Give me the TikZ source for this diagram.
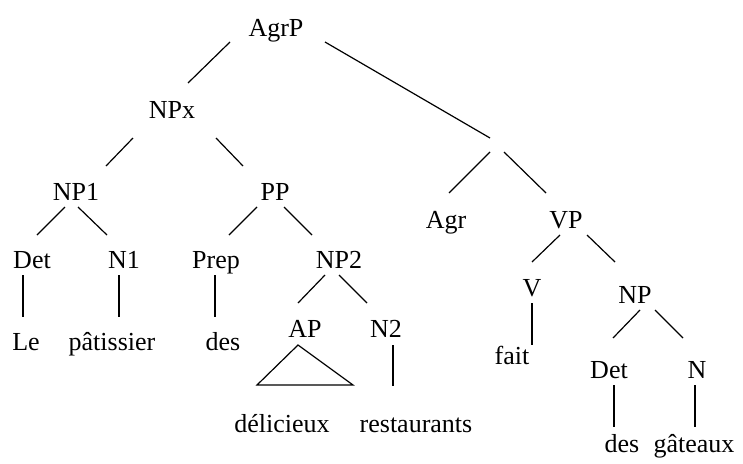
\documentclass[tikz,border=0pt]{standalone}
\usepackage{fontspec}
\setmainfont{Liberation Serif}
\begin{document}
\begin{tikzpicture}[x=1pt,y=-1pt,line width=1.2pt,
  lbl/.style={anchor=base,inner sep=0pt,font=\fontsize{26}{30}\selectfont}]
\useasboundingbox (0,0) rectangle (743,463);
% categories
\node[lbl] (agrp) at (276,36) {AgrP};
\node[lbl] (npx) at (172,118) {NPx};
\node[lbl] (np1) at (76,200) {NP1};
\node[lbl] (pp) at (275,200) {PP};
\coordinate (j) at (497,145);
\node[lbl] (agr) at (446,228) {Agr};
\node[lbl] (vp) at (566,228) {VP};
\node[lbl] (det1) at (32,268) {Det};
\node[lbl] (n1) at (124,268) {N1};
\node[lbl] (prep) at (216,268) {Prep};
\node[lbl] (np2) at (339,268) {NP2};
\node[lbl] (ap) at (305,337) {AP};
\node[lbl] (n2) at (386,337) {N2};
\node[lbl] (v) at (532,296) {V};
\node[lbl] (np) at (635,303) {NP};
\node[lbl] (det2) at (609,378) {Det};
\node[lbl] (n) at (697,378) {N};
% words
\node[lbl] (le) at (26,350) {Le};
\node[lbl] (pat) at (112,350) {pâtissier};
\node[lbl] (des1) at (223,350) {des};
\node[lbl] (delic) at (282,432) {délicieux};
\node[lbl] (rest) at (416,432) {restaurants};
\node[lbl] (fait) at (512,364) {fait};
\node[lbl] (des2) at (622,452) {des};
\node[lbl] (gat) at (694,452) {gâteaux};
% branches
\draw ([shift={(-46,6)}]agrp.base) -- ([shift={(16,-35)}]npx.base);
\draw ([shift={(49,6)}]agrp.base) -- ([shift={(-7,-7)}]j);
\draw ([shift={(-39,20)}]npx.base) -- ([shift={(30,-34)}]np1.base);
\draw ([shift={(44,20)}]npx.base) -- ([shift={(-32,-34)}]pp.base);
\draw ([shift={(-11,7)}]np1.base) -- ([shift={(5,-33)}]det1.base);
\draw ([shift={(2,7)}]np1.base) -- ([shift={(-17,-33)}]n1.base);
\draw ([shift={(-18,7)}]pp.base) -- ([shift={(13,-33)}]prep.base);
\draw ([shift={(9,7)}]pp.base) -- ([shift={(-27,-33)}]np2.base);
\draw ([shift={(-7,7)}]j) -- ([shift={(3,-35)}]agr.base);
\draw ([shift={(7,7)}]j) -- ([shift={(-20,-35)}]vp.base);
\draw ([shift={(-9,7)}]det1.base) -- ([shift={(-3,-33)}]le.base);
\draw ([shift={(-5,7)}]n1.base) -- ([shift={(7,-33)}]pat.base);
\draw ([shift={(-1,7)}]prep.base) -- ([shift={(-8,-33)}]des1.base);
\draw ([shift={(-14,7)}]np2.base) -- ([shift={(-7,-34)}]ap.base);
\draw ([shift={(0,7)}]np2.base) -- ([shift={(-19,-34)}]n2.base);
\draw ([shift={(7,8)}]n2.base) -- ([shift={(-23,-46)}]rest.base);
\draw ([shift={(-6,7)}]vp.base) -- ([shift={(0,-34)}]v.base);
\draw ([shift={(21,7)}]vp.base) -- ([shift={(-20,-41)}]np.base);
\draw ([shift={(0,7)}]v.base) -- ([shift={(20,-19)}]fait.base);
\draw ([shift={(5,7)}]np.base) -- ([shift={(4,-40)}]det2.base);
\draw ([shift={(20,7)}]np.base) -- ([shift={(-14,-40)}]n.base);
\draw ([shift={(5,7)}]det2.base) -- ([shift={(-8,-25)}]des2.base);
\draw ([shift={(-2,7)}]n.base) -- ([shift={(1,-25)}]gat.base);
% triangle under AP
\draw ([shift={(-7,8)}]ap.base) -- ([shift={(-48,48)}]ap.base)
  -- ([shift={(48,48)}]ap.base) -- cycle;
\end{tikzpicture}
\end{document}
